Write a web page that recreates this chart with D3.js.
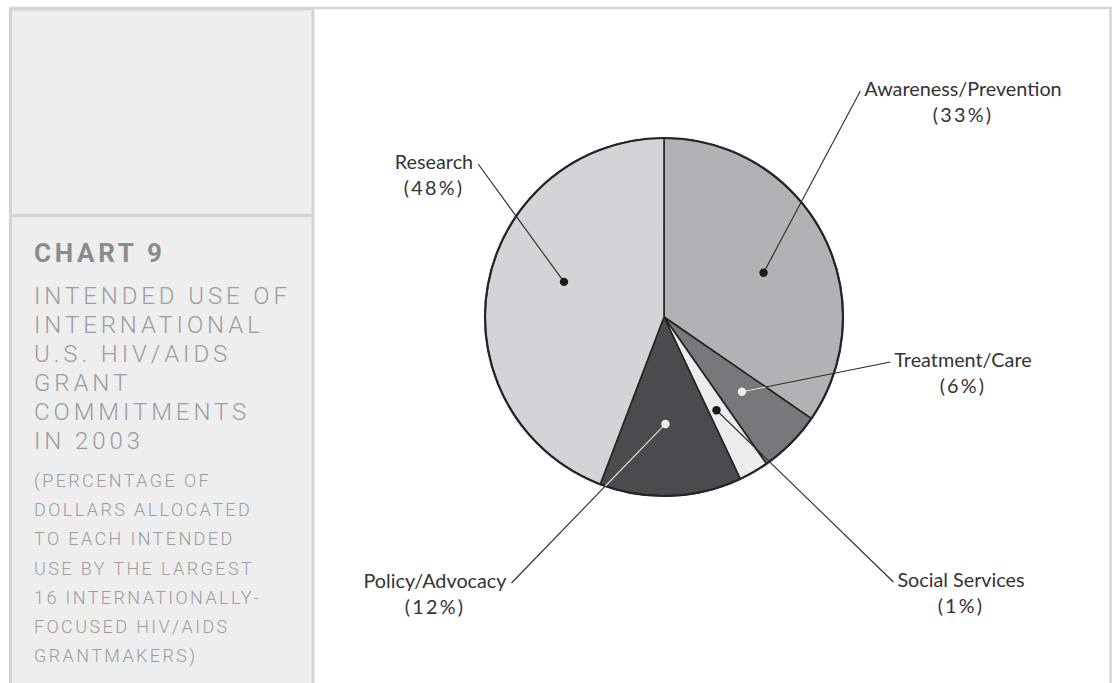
<!DOCTYPE html>
<html>
<head>
<meta charset="utf-8">
<script src="https://cdn.jsdelivr.net/npm/d3@7"></script>
<style>
  html, body { margin: 0; padding: 0; background: #fff; }
  svg { display: block; }
</style>
</head>
<body>
<svg id="chart" width="1112" height="683"></svg>
<script>
// ======================
// DATA
// ======================

const categories = ["Awareness/Prevention", "Treatment/Care", "Social Services", "Policy/Advocacy", "Research"];
const pctLabels = ["(33%)", "(6%)", "(1%)", "(12%)", "(48%)"];
// slice sizes as drawn in the picture (angles measured off the pie)
const sliceShares = [34.6, 5.7, 2.7, 12.8, 44.2];

const chartTag = "CHART 9";
const titleLines = ["INTENDED USE OF", "INTERNATIONAL", "U.S. HIV/AIDS", "GRANT", "COMMITMENTS", "IN 2003"];
const noteLines = ["(PERCENTAGE OF", "DOLLARS ALLOCATED", "TO EACH INTENDED", "USE BY THE LARGEST",
    "16 INTERNATIONALLY-", "FOCUSED HIV/AIDS", "GRANTMAKERS)"];

// ======================
// LAYOUT / STYLE
// ======================

const width = 1112;
const height = 683;
const borderColor = "#d4d4d4";

const pieCx = 664;
const pieCy = 317;
const pieR = 179;

const sliceFill = ["#b1b2b5", "#77787c", "#ececec", "#4a4b4e", "#d3d4d7"];
const dotFill = ["#1a1a1a", "#ececec", "#1a1a1a", "#ececec", "#1a1a1a"];
// where the dot sits inside its slice: fraction of the slice angle, distance from centre
const dotSpot = [
    { t: 0.53, r: 109 },
    { t: 0.45, r: 108 },
    { t: 0.57, r: 107 },
    { t: 0.53, r: 107 },
    { t: 0.556, r: 106 }
];
// label anchor (centre x, first baseline) and which side the leader meets
const labelSpot = [
    { x: 963, y: 96, side: "left" },
    { x: 963, y: 367, side: "left" },
    { x: 961, y: 587, side: "left" },
    { x: 435, y: 588, side: "right" },
    { x: 434, y: 169, side: "right" }
];

const svg = d3.select("#chart").attr("viewBox", `0 0 ${width} ${height}`);

// ======================
// FRAME + SIDE PANEL
// ======================

svg.append("rect")
    .attr("x", 10.5).attr("y", 9)
    .attr("width", 302.5).attr("height", height)
    .attr("fill", "#eeeeee")
    .attr("stroke", borderColor)
    .attr("stroke-width", 3);

svg.append("line")
    .attr("x1", 9).attr("x2", width)
    .attr("y1", 8).attr("y2", 8)
    .attr("stroke", borderColor).attr("stroke-width", 2.5);

svg.append("line")
    .attr("x1", 1110.5).attr("x2", 1110.5)
    .attr("y1", 7).attr("y2", height)
    .attr("stroke", borderColor).attr("stroke-width", 2.5);

svg.append("line")
    .attr("x1", 10).attr("x2", 313)
    .attr("y1", 215.5).attr("y2", 215.5)
    .attr("stroke", borderColor).attr("stroke-width", 3.5);

const panel = svg.append("g").attr("transform", "translate(34,0)");

panel.append("text")
    .attr("x", 0).attr("y", 261.5)
    .attr("font-family", "Roboto, 'Liberation Sans', sans-serif")
    .attr("font-weight", 700)
    .attr("font-size", 26)
    .attr("letter-spacing", 3.7)
    .attr("fill", "#8b8c8e")
    .text(chartTag);

panel.append("g").selectAll("text")
    .data(titleLines)
    .join("text")
    .attr("x", 0)
    .attr("y", (d, i) => 303.5 + i * 29.1)
    .attr("font-family", "Roboto, 'Liberation Sans', sans-serif")
    .attr("font-weight", 300)
    .attr("font-size", 24)
    .attr("letter-spacing", 3.9)
    .attr("fill", "#9c9d9f")
    .text(d => d);

panel.append("g").selectAll("text")
    .data(noteLines)
    .join("text")
    .attr("x", 0)
    .attr("y", (d, i) => 487 + i * 29.2)
    .attr("font-family", "Roboto, 'Liberation Sans', sans-serif")
    .attr("font-weight", 300)
    .attr("font-size", 18)
    .attr("letter-spacing", 2.4)
    .attr("fill", "#9c9d9f")
    .text(d => d);

// ======================
// PIE
// ======================

const pie = d3.pie().sort(null).value(d => d.share);
const arcs = pie(categories.map((c, i) => ({ name: c, share: sliceShares[i], i })));
const arc = d3.arc().innerRadius(0).outerRadius(pieR);

const pieG = svg.append("g").attr("transform", `translate(${pieCx},${pieCy})`);

const defs = svg.append("defs");
arcs.forEach((a, i) => {
    defs.append("clipPath")
        .attr("id", `slice-clip-${i}`)
        .append("path")
        .attr("d", arc(a));
});

pieG.selectAll(".slice")
    .data(arcs)
    .join("path")
    .attr("class", "slice")
    .attr("d", arc)
    .attr("fill", (d, i) => sliceFill[i])
    .attr("stroke", "#262426")
    .attr("stroke-width", 1.6)
    .attr("stroke-linejoin", "round");

pieG.append("circle")
    .attr("r", pieR)
    .attr("fill", "none")
    .attr("stroke", "#262426")
    .attr("stroke-width", 2.2);

// dot positions inside each slice
const dots = arcs.map((a, i) => {
    const ang = a.startAngle + dotSpot[i].t * (a.endAngle - a.startAngle);
    return { x: Math.sin(ang) * dotSpot[i].r, y: -Math.cos(ang) * dotSpot[i].r };
});

// ======================
// LABELS + LEADERS
// ======================

const labelG = svg.append("g");
const leaderG = pieG.append("g");

categories.forEach((name, i) => {
    const spot = labelSpot[i];
    const t1 = labelG.append("text")
        .attr("x", spot.x).attr("y", spot.y)
        .attr("text-anchor", "middle")
        .attr("font-family", "Lato, 'Liberation Sans', sans-serif")
        .attr("font-size", 19.8)
        .attr("fill", "#333")
        .text(name);
    labelG.append("text")
        .attr("x", spot.x).attr("y", spot.y + 25.5)
        .attr("text-anchor", "middle")
        .attr("font-family", "Lato, 'Liberation Sans', sans-serif")
        .attr("font-size", 19.8)
        .attr("letter-spacing", 2.2)
        .attr("fill", "#333")
        .text(pctLabels[i]);

    const w = t1.node().getComputedTextLength();
    const endX = spot.side === "left" ? spot.x - w / 2 - 4 : spot.x + w / 2 + 5;
    const endY = spot.y - 5;
    const lx = endX - pieCx;
    const ly = endY - pieCy;

    leaderG.append("line")
        .attr("x1", dots[i].x).attr("y1", dots[i].y)
        .attr("x2", lx).attr("y2", ly)
        .attr("stroke", "#2a2a2a")
        .attr("stroke-width", 1.1);

    // light part of the leader where it crosses its own dark slice
    if (dotFill[i] !== "#1a1a1a") {
        leaderG.append("line")
            .attr("x1", dots[i].x).attr("y1", dots[i].y)
            .attr("x2", lx).attr("y2", ly)
            .attr("clip-path", `url(#slice-clip-${i})`)
            .attr("stroke", dotFill[i])
            .attr("stroke-width", 1.1);
    }
});

pieG.selectAll(".dot")
    .data(dots)
    .join("circle")
    .attr("class", "dot")
    .attr("cx", d => d.x)
    .attr("cy", d => d.y)
    .attr("r", 4.2)
    .attr("fill", (d, i) => dotFill[i]);
</script>
</body>
</html>
